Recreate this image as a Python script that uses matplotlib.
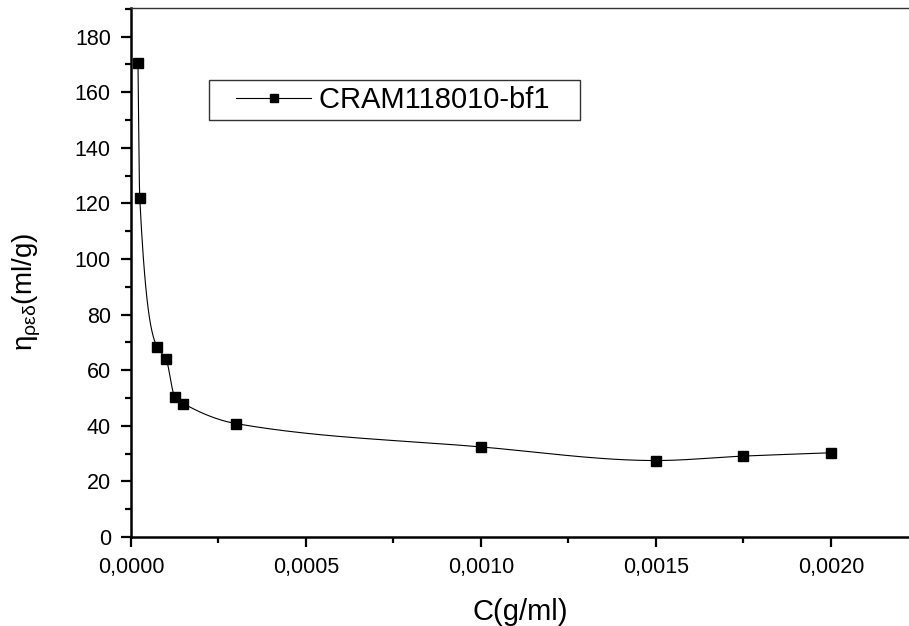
import numpy as np
import matplotlib
matplotlib.use("Agg")
import matplotlib.pyplot as plt
from matplotlib.ticker import MultipleLocator, FuncFormatter
from matplotlib.legend_handler import HandlerLine2D

plt.rcParams['font.family'] = ['Liberation Sans', 'DejaVu Sans']
plt.rcParams['mathtext.fontset'] = 'custom'
plt.rcParams['mathtext.rm'] = 'Liberation Sans'
plt.rcParams['mathtext.it'] = 'Liberation Sans'

# data
conc = [0.00002, 0.000025, 0.000075, 0.0001, 0.000125, 0.00015,
        0.0003, 0.001, 0.0015, 0.00175, 0.002]
eta_red = [170.4, 122.0, 68.2, 64.1, 50.5, 48.0, 40.8, 32.4, 27.5, 29.1, 30.3]
series_name = "CRAM118010-bf1"


def smooth_line(x, y, n=30):
    # monotone cubic (pchip) through the points, just for the connecting curve
    x = np.asarray(x, float)
    y = np.asarray(y, float)
    h = np.diff(x)
    d = np.diff(y) / h
    m = np.zeros_like(y)
    for i in range(1, len(x) - 1):
        if d[i - 1] * d[i] > 0:
            w1 = 2 * h[i] + h[i - 1]
            w2 = h[i] + 2 * h[i - 1]
            m[i] = (w1 + w2) / (w1 / d[i - 1] + w2 / d[i])
    m[0] = d[0]
    m[-1] = d[-1]
    xs, ys = [], []
    for i in range(len(x) - 1):
        t = np.linspace(0, 1, n)
        h00 = 2 * t**3 - 3 * t**2 + 1
        h10 = t**3 - 2 * t**2 + t
        h01 = -2 * t**3 + 3 * t**2
        h11 = t**3 - t**2
        xs.append(x[i] + t * h[i])
        ys.append(h00 * y[i] + h10 * h[i] * m[i] + h01 * y[i + 1] + h11 * h[i] * m[i + 1])
    return np.concatenate(xs), np.concatenate(ys)


class PaddedLine(HandlerLine2D):
    # leaves some blank room left of the legend line, like the Origin box
    def create_artists(self, legend, orig_handle, xdescent, ydescent, width, height, fontsize, trans):
        pad = 0.22 * width
        return super().create_artists(legend, orig_handle, xdescent - pad, ydescent,
                                      width - pad, height, fontsize, trans)


fig = plt.figure(figsize=(9.09, 6.26), dpi=100)
ax = fig.add_axes([0.1441, 0.1422, 0.8559, 0.845])

sx, sy = smooth_line(conc, eta_red)
ax.plot(sx, sy, color='black', lw=0.8, zorder=2)
ax.plot(conc, eta_red, ls='none', marker='s', ms=7, color='black', zorder=3)
# legend proxy
proxy, = ax.plot([], [], color='black', lw=0.8, marker='s', ms=6)

ax.set_xlim(0, 0.002223)
ax.set_ylim(0, 190.3)

ax.xaxis.set_major_locator(MultipleLocator(0.0005))
ax.xaxis.set_minor_locator(MultipleLocator(0.00025))
ax.yaxis.set_major_locator(MultipleLocator(20))
ax.yaxis.set_minor_locator(MultipleLocator(10))
ax.xaxis.set_major_formatter(FuncFormatter(lambda v, p: f"{v:.4f}".replace('.', ',')))

ax.tick_params(which='major', direction='out', length=7.5, width=1.6, labelsize=15.5)
ax.tick_params(which='minor', direction='out', length=4.5, width=1.6)
ax.tick_params(axis='x', pad=7)
ax.tick_params(axis='y', pad=7)

for s in ['left', 'bottom']:
    ax.spines[s].set_linewidth(1.8)
ax.spines['top'].set_linewidth(1.0)
ax.spines['top'].set_color('#333333')
ax.spines['right'].set_visible(False)

ax.set_xlabel("C(g/ml)", fontsize=21, labelpad=14)
ax.set_ylabel(r"$\mathregular{\eta_{\rho\varepsilon\delta}}$(ml/g)", fontsize=20)
ax.yaxis.set_label_coords(-0.113, 0.463)

leg = ax.legend([proxy], [series_name + "   "], loc='upper left',
                bbox_to_anchor=(0.1003, 0.864), fontsize=21,
                frameon=True, fancybox=False, edgecolor='black', handlelength=3.3,
                borderpad=0.2, handletextpad=0.28, borderaxespad=0,
                handler_map={proxy: PaddedLine()})
leg.get_frame().set_linewidth(1.0)

fig.savefig("out.png", dpi=100)
